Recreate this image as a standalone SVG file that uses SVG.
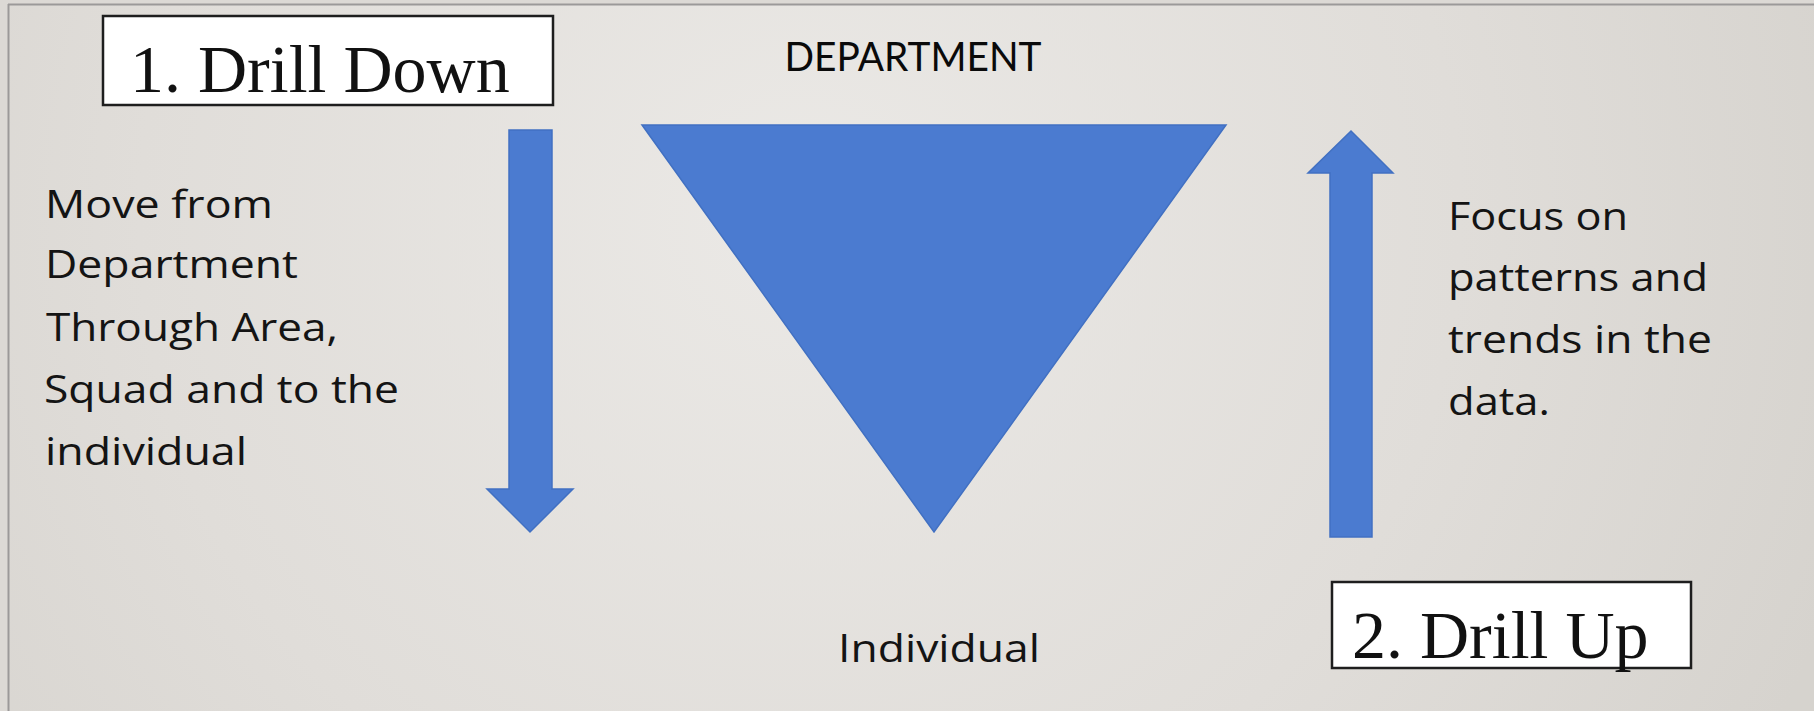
<svg xmlns="http://www.w3.org/2000/svg" width="1814" height="711" viewBox="0 0 1814 711">
  <defs>
    <radialGradient id="bg" cx="800" cy="220" r="1100" gradientUnits="userSpaceOnUse">
      <stop offset="0" stop-color="#ebe9e6"/>
      <stop offset="0.6" stop-color="#e0ddd9"/>
      <stop offset="1" stop-color="#d6d3ce"/>
    </radialGradient>
    <style>
      .blue { fill: #4b7bd0; stroke: #4170c2; stroke-width: 1.5; stroke-linejoin: miter; }
      .box { fill: #ffffff; stroke: #1e1e1e; stroke-width: 2.5; }
      .serif { font-family: "Liberation Serif", "Times New Roman", serif; font-size: 68px; fill: #111111; }
      .body { font-family: "Open Sans", "Noto Sans", sans-serif; font-size: 38px; fill: #141414; }
      .caps { font-family: Lato, "Open Sans", sans-serif; font-size: 41px; fill: #0a0a0a; }
    </style>
  </defs>

  <rect x="0" y="0" width="1814" height="711" fill="#dcd9d5"/>
  <rect x="9" y="5" width="1805" height="706" fill="url(#bg)"/>
  <line x1="8.5" y1="4" x2="8.5" y2="711" stroke="#9b9999" stroke-width="2"/>
  <line x1="8" y1="4.5" x2="1814" y2="4.5" stroke="#9b9999" stroke-width="2"/>

  <g id="drill-down-label">
    <rect class="box" x="103" y="16" width="450" height="89"/>
    <text class="serif" x="130" y="92">1. Drill Down</text>
  </g>

  <g id="department-label">
    <text class="caps" x="913" y="71" text-anchor="middle" textLength="257" lengthAdjust="spacingAndGlyphs">DEPARTMENT</text>
  </g>

  <g id="hierarchy-triangle">
    <polygon class="blue" points="642,125 1226,125 934,532"/>
  </g>

  <g id="individual-label">
    <text class="body" x="838" y="662" font-size="42" textLength="202" lengthAdjust="spacingAndGlyphs">Individual</text>
  </g>

  <g id="drill-down-text">
    <text class="body" x="45" y="218" textLength="228" lengthAdjust="spacingAndGlyphs">Move from</text>
    <text class="body" x="45" y="278" textLength="253" lengthAdjust="spacingAndGlyphs">Department</text>
    <text class="body" x="46" y="341" textLength="292" lengthAdjust="spacingAndGlyphs">Through Area,</text>
    <text class="body" x="44" y="403" textLength="355" lengthAdjust="spacingAndGlyphs">Squad and to the</text>
    <text class="body" x="45" y="465" textLength="202" lengthAdjust="spacingAndGlyphs">individual</text>
  </g>

  <g id="drill-up-text">
    <text class="body" x="1448" y="230" textLength="180" lengthAdjust="spacingAndGlyphs">Focus on</text>
    <text class="body" x="1448" y="291" textLength="260" lengthAdjust="spacingAndGlyphs">patterns and</text>
    <text class="body" x="1448" y="353" textLength="264" lengthAdjust="spacingAndGlyphs">trends in the</text>
    <text class="body" x="1448" y="415" textLength="102" lengthAdjust="spacingAndGlyphs">data.</text>
  </g>

  <g id="drill-up-label">
    <rect class="box" x="1332" y="582" width="359" height="86"/>
    <text class="serif" x="1352" y="658">2. Drill Up</text>
  </g>

  <g id="connectors">
    <polygon id="arrow-down" class="blue" points="509,130 552,130 552,489 573,489 530,532 487,489 509,489"/>
    <polygon id="arrow-up" class="blue" points="1351,131 1393,173 1372,173 1372,537 1330,537 1330,173 1308,173"/>
  </g>
</svg>
